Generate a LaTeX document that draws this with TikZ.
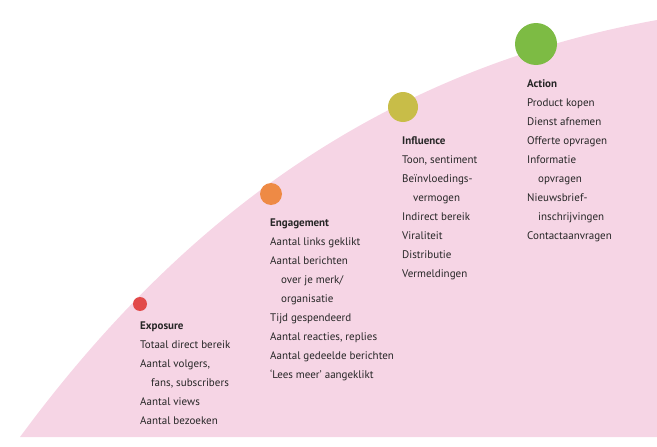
\documentclass[tikz,border=0pt]{standalone}
\usepackage{fontspec}
\setmainfont{PT Sans}
\usetikzlibrary{positioning}
\definecolor{pinkbg}{HTML}{F6D5E5}
\definecolor{expred}{HTML}{E24A4A}
\definecolor{engorange}{HTML}{EE8A45}
\definecolor{infyellow}{HTML}{C8BD48}
\definecolor{actgreen}{HTML}{7DBB44}
\begin{document}
\begin{tikzpicture}[x=1pt,y=-1pt]
	\fontsize{11}{19}\selectfont
	\tikzstyle{stage}=[align=left, anchor=north west, inner sep=0pt, text=black!85]
	\tikzstyle{dot}=[circle, inner sep=0pt]
	\useasboundingbox (0,0) rectangle (657,447);
	\fill[pinkbg] (20,437) .. controls (180,220) and (380,70) .. (657,20) -- (657,437) -- cycle;

	\node[dot, fill=expred, minimum size=14pt]	(d-exp)	at (140,304)	{};
	\node[dot, fill=engorange, minimum size=22pt]	(d-eng)	at (271,194)	{};
	\node[dot, fill=infyellow, minimum size=30pt]	(d-inf)	at (403,107)	{};
	\node[dot, fill=actgreen, minimum size=42pt]	(d-act)	at (536,44)	{};

	\node[stage] (exposure) at (140,322) {\textbf{Exposure}\\Totaal direct bereik\\Aantal volgers,\\\hspace{1em}fans, subscribers\\Aantal views\\Aantal bezoeken};
	\node[stage] (engagement) at (270,219) {\textbf{Engagement}\\Aantal links geklikt\\Aantal berichten\\\hspace{1em}over je merk/\\\hspace{1em}organisatie\\Tijd gespendeerd\\Aantal reacties, replies\\Aantal gedeelde berichten\\`Lees meer' aangeklikt};
	\node[stage] (influence) at (402,136) {\textbf{Influence}\\Toon, sentiment\\Beïnvloedings-\\\hspace{1em}vermogen\\Indirect bereik\\Viraliteit\\Distributie\\Vermeldingen};
	\node[stage] (action) at (527,79) {\textbf{Action}\\Product kopen\\Dienst afnemen\\Offerte opvragen\\Informatie\\\hspace{1em}opvragen\\Nieuwsbrief-\\\hspace{1em}inschrijvingen\\Contactaanvragen};
\end{tikzpicture}
\end{document}
